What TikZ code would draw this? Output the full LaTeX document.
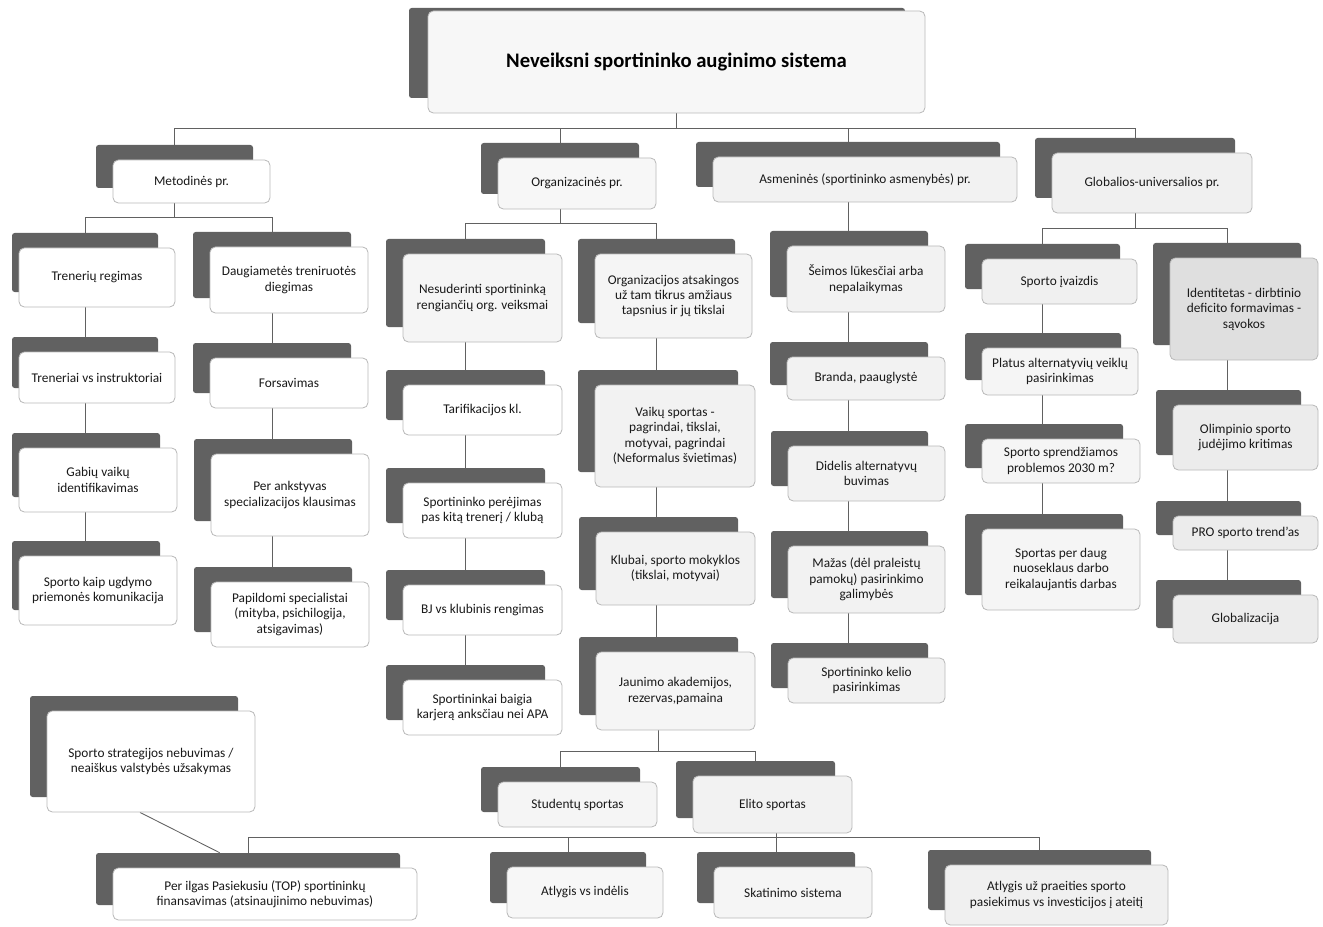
\documentclass[tikz,border=0pt]{standalone}
\usepackage{fontspec}
\setmainfont{Carlito}
\usetikzlibrary{fit,calc}
\pgfdeclarelayer{bg}
\pgfsetlayers{bg,main}
\tikzset{
  dk/.style={fill=black!62, rounded corners=2pt, inner sep=0pt, draw=none},
  fr/.style={draw=gray!55, line width=0.6pt, rounded corners=4pt, inner sep=0pt, align=center,
    font=\fontsize{10}{11.6}\selectfont, text=black!90},
  conn/.style={draw=black!62, line width=0.65pt}
}
\newcommand\bx[8][17]{%
  \node[dk, fit={(#4-#1,#5-15) (#6-17,#7-15)}] (#2-d) {};
  \node[fr, fill=#3, minimum width={(#6-#4)*0.75pt}, minimum height={(#7-#5)*0.75pt}]
    (#2) at ({(#4+#6)/2},{(#5+#7)/2}) {#8};
}
\begin{document}
\begin{tikzpicture}[x=0.75pt,y=-0.75pt]
\useasboundingbox (0,0) rectangle (1323,927);
% title
\node[dk, fit={(409,8) (905,98)}] (title-d) {};
\node[fr, fill=gray!6, minimum width={497*0.75pt}, minimum height={102*0.75pt},
  font=\fontsize{15.5}{18}\selectfont\bfseries, text=black] (title) at (676.5,62) {Neveiksni sportininko auginimo sistema};
% level 1
\bx{met}{white}{113}{160}{270}{203}{Metodinės pr.}
\bx{org}{gray!6}{498}{158}{656}{209}{Organizacinės pr.}
\bx{asm}{gray!10}{713}{157}{1017}{202}{Asmeninės (sportininko asmenybės) pr.}
\bx{glo}{gray!12}{1052}{153}{1252}{213}{Globalios-universalios pr.}
% Metodines
\bx[7]{tr1}{white}{19}{248}{175}{307}{Trenerių regimas}
\bx[7]{tr2}{white}{19}{352}{175}{403}{Treneriai vs instruktoriai}
\bx[7]{tr3}{white}{19}{448}{177}{512}{Gabių vaikų\\identifikavimas}
\bx[7]{tr4}{white}{19}{556}{177}{625}{Sporto kaip ugdymo\\priemonės komunikacija}
\bx{dg1}{white}{210}{247}{368}{313}{Daugiametės treniruotės\\diegimas}
\bx{dg2}{white}{210}{358}{368}{408}{Forsavimas}
\bx{dg3}{white}{211}{454}{369}{536}{Per ankstyvas\\specializacijos klausimas}
\bx{dg4}{white}{211}{582}{369}{647}{Papildomi specialistai\\(mityba, psichilogija,\\atsigavimas)}
% Organizacines
\bx{ns1}{gray!8}{403}{254}{562}{342}{Nesuderinti sportininką\\rengiančių org. veiksmai}
\bx{ns2}{white}{403}{385}{562}{435}{Tarifikacijos kl.}
\bx{ns3}{white}{403}{483}{562}{538}{Sportininko perėjimas\\pas kitą trenerį / klubą}
\bx{ns4}{white}{403}{585}{562}{635}{BJ vs klubinis rengimas}
\bx{ns5}{white}{403}{680}{562}{735}{Sportininkai baigia\\karjerą anksčiau nei APA}
\bx{oa1}{gray!8}{595}{254}{752}{338}{Organizacijos atsakingos\\už tam tikrus amžiaus\\tapsnius ir jų tikslai}
\bx{oa2}{gray!10}{595}{385}{755}{487}{Vaikų sportas -\\pagrindai, tikslai,\\motyvai, pagrindai\\(Neformalus švietimas)}
\bx{oa3}{gray!10}{596}{532}{755}{605}{Klubai, sporto mokyklos\\(tikslai, motyvai)}
\bx{oa4}{gray!8}{596}{652}{755}{730}{Jaunimo akademijos,\\rezervas,pamaina}
\bx{st}{gray!8}{498}{782}{657}{827}{Studentų sportas}
\bx{el}{gray!10}{693}{776}{852}{833}{Elito sportas}
% Asmenines
\bx{a1}{gray!10}{787}{246}{945}{312}{Šeimos lūkesčiai arba\\nepalaikymas}
\bx{a2}{gray!10}{787}{357}{945}{400}{Branda, paauglystė}
\bx{a3}{gray!10}{788}{446}{945}{501}{Didelis alternatyvų\\buvimas}
\bx{a4}{gray!10}{788}{546}{945}{613}{Mažas (dėl praleistų\\pamokų) pasirinkimo\\galimybės}
\bx{a5}{gray!10}{788}{658}{945}{703}{Sportininko kelio\\pasirinkimas}
% Globalios
\bx{g1}{gray!12}{982}{259}{1137}{304}{Sporto įvaizdis}
\bx{g2}{gray!8}{982}{348}{1138}{395}{Platus alternatyvių veiklų\\pasirinkimas}
\bx{g3}{gray!8}{982}{439}{1140}{483}{Sporto sprendžiamos\\problemos 2030 m?}
\bx{g4}{gray!8}{982}{529}{1140}{610}{Sportas per daug\\nuoseklaus darbo\\reikalaujantis darbas}
\bx{i1}{gray!25}{1170}{258}{1318}{360}{Identitetas - dirbtinio\\deficito formavimas -\\sąvokos}
\bx{i2}{gray!15}{1173}{405}{1318}{470}{Olimpinio sporto\\judėjimo kritimas}
\bx{i3}{gray!15}{1173}{516}{1318}{550}{PRO sporto trend’as}
\bx{i4}{gray!15}{1173}{595}{1318}{643}{Globalizacija}
% bottom
\bx{str}{white}{47}{711}{255}{812}{Sporto strategijos nebuvimas /\\neaiškus valstybės užsakymas}
\bx{pil}{white}{113}{868}{417}{920}{Per ilgas Pasiekusiu (TOP) sportininkų\\finansavimas (atsinaujinimo nebuvimas)}
\bx{av}{gray!6}{507}{867}{663}{918}{Atlygis vs indėlis}
\bx{sk}{gray!8}{714}{867}{872}{918}{Skatinimo sistema}
\bx{au}{gray!12}{945}{865}{1168}{925}{Atlygis už praeities sporto\\pasiekimus vs investicijos į ateitį}

\begin{pgfonlayer}{bg}
% title bus
\draw[conn] (title.south) -- (title.south |- 0,128);
\draw[conn] (met-d.center) |- (glo-d.center |- 0,128) -- (glo-d.center);
\draw[conn] (org-d.center) -- (org-d.center |- 0,128);
\draw[conn] (asm-d.center) -- (asm-d.center |- 0,128);
% metodines
\draw[conn] (met-d.center) -- (met-d.center |- 0,217);
\draw[conn] (tr1-d.center) |- (dg1-d.center |- 0,217) -- (dg1-d.center);
\draw[conn] (tr1-d.center) -- (tr1-d.center |- tr4-d.center);
\draw[conn] (dg1-d.center) -- (dg1-d.center |- dg4-d.center);
% organizacines
\draw[conn] (org-d.center) -- (org-d.center |- 0,223);
\draw[conn] (ns1-d.center) |- (oa1-d.center |- 0,223) -- (oa1-d.center);
\draw[conn] (ns1-d.center) -- (ns1-d.center |- ns5-d.center);
\draw[conn] (oa1-d.center) -- (oa1-d.center |- oa4-d.center);
\draw[conn] (oa4-d.center) -- (oa4-d.center |- 0,751);
\draw[conn] (st-d.center) |- (el-d.center |- 0,751) -- (el-d.center);
% bottom bus
\draw[conn] (pil-d.center) |- (au-d.center |- 0,837) -- (au-d.center);
\draw[conn] (av-d.center) -- (av-d.center |- 0,837);
\draw[conn] (sk-d.center |- el.center) -- (sk-d.center);
\draw[conn] ($(str.south)+(-11,0)$) -- ($(pil-d.north west)+(124,0)$);
% asmenines
\draw[conn] (asm-d.center) -- (asm-d.center |- a5-d.center);
% globalios
\draw[conn] (glo-d.center) -- (glo-d.center |- 0,228);
\draw[conn] (g1-d.center) |- (i1-d.center |- 0,228) -- (i1-d.center);
\draw[conn] (g1-d.center) -- (g1-d.center |- g4-d.center);
\draw[conn] (i1-d.center) -- (i1-d.center |- i4-d.center);
\end{pgfonlayer}
\end{tikzpicture}
\end{document}
